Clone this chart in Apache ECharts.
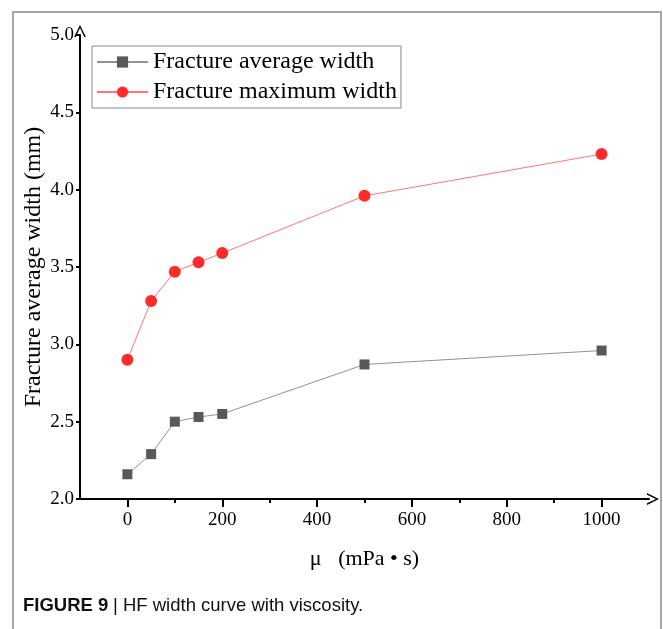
<!DOCTYPE html>
<html>
<head>
<meta charset="utf-8">
<script src="https://cdn.jsdelivr.net/npm/echarts@6/dist/echarts.min.js"></script>
<style>
  html, body { margin: 0; padding: 0; background: #fff; }
  #chart { width: 663px; height: 629px; }
</style>
</head>
<body>
<div id="chart"></div>
<script>
// Viscosity (mPa·s) on the x axis
const viscosity = [0, 50, 100, 150, 200, 500, 1000];
// Fracture widths (mm)
const avgWidth = [2.16, 2.29, 2.50, 2.53, 2.55, 2.87, 2.96];
const maxWidth = [2.90, 3.28, 3.47, 3.53, 3.59, 3.96, 4.23];
// Tick positions
const xMajorTicks = [0, 200, 400, 600, 800, 1000];
const xMinorTicks = [0, 100, 200, 300, 400, 500, 600, 700, 800, 900, 1000];

const serif = '"Liberation Serif", "DejaVu Serif", serif';
const openArrow = 'path://M5,0 L10,10 L8.6,10 L5,2.6 L1.4,10 L0,10 Z';

const chart = echarts.init(document.getElementById('chart'), null, { renderer: 'canvas' });

const pairs = (xs, ys) => xs.map((x, i) => [x, ys[i]]);

chart.setOption({
  backgroundColor: '#fff',
  animation: false,
  grid: { left: 80, right: 14, top: 35, bottom: 130, containLabel: false },
  legend: {
    orient: 'vertical',
    left: 92, top: 46,
    padding: [4, 4, 4, 4],
    itemGap: 6,
    itemWidth: 51,
    itemHeight: 14,
    borderColor: '#888',
    borderWidth: 1,
    textStyle: { fontFamily: serif, fontSize: 24, color: '#000', lineHeight: 22 },
    data: ['Fracture average width', 'Fracture maximum width']
  },
  xAxis: [
    {
      type: 'value', min: -100, max: 1100, position: 'bottom',
      splitLine: { show: false },
      axisLine: { onZero: false, lineStyle: { color: '#000', width: 2 }, symbol: ['none', openArrow], symbolSize: [13, 12], symbolOffset: [0, 4] },
      axisTick: { show: true, inside: false, length: 4, lineStyle: { color: '#000', width: 2 }, customValues: xMinorTicks },
      axisLabel: { fontFamily: serif, fontSize: 19, color: '#000', margin: 12, customValues: xMajorTicks, formatter: v => String(v) },
      name: 'μ   (mPa • s)', nameLocation: 'middle', nameGap: 49, nameMoveOverlap: false,
      nameTextStyle: { fontFamily: serif, fontSize: 22, color: '#000' }
    },
    {
      type: 'value', min: -100, max: 1100, position: 'bottom',
      splitLine: { show: false },
      axisLine: { show: false, onZero: false },
      axisTick: { show: true, inside: false, length: 8, lineStyle: { color: '#000', width: 2 }, customValues: xMajorTicks },
      axisLabel: { show: false }
    }
  ],
  yAxis: {
    type: 'value', min: 2, max: 5, interval: 0.5,
    splitLine: { show: false },
    axisLine: { show: true, onZero: false, lineStyle: { color: '#000', width: 2 }, symbol: ['none', openArrow], symbolSize: [13, 12], symbolOffset: [0, 4] },
    axisTick: { show: true, inside: false, length: 4, lineStyle: { color: '#000', width: 2 } },
    axisLabel: { fontFamily: serif, fontSize: 19, color: '#000', margin: 6, formatter: v => v.toFixed(1) },
    name: 'Fracture average width (mm)', nameLocation: 'middle', nameGap: 34, nameRotate: 90, nameMoveOverlap: false,
    nameTextStyle: { fontFamily: serif, fontSize: 24, color: '#000' }
  },
  series: [
    {
      name: 'Fracture average width', type: 'line',
      data: pairs(viscosity, avgWidth),
      symbol: 'rect', symbolSize: 10,
      itemStyle: { color: '#595959' },
      lineStyle: { color: '#929292', width: 1 },
      z: 3
    },
    {
      name: 'Fracture maximum width', type: 'line',
      data: pairs(viscosity, maxWidth),
      symbol: 'circle', symbolSize: 12,
      itemStyle: { color: '#ff2a2a' },
      lineStyle: { color: '#ff7676', width: 1 },
      z: 3
    }
  ],
  graphic: [
    // figure frame, open at the bottom
    { type: 'polyline', shape: { points: [[13, 629], [13, 12], [661, 12], [661, 629]] },
      style: { stroke: '#a6a6a6', lineWidth: 2, fill: null }, silent: true },
    { type: 'text', left: 23, top: 596,
      style: { text: 'FIGURE 9', font: 'bold 18.5px "Liberation Sans", Arial, sans-serif', fill: '#111' } },
    { type: 'text', left: 113, top: 596,
      style: { text: '| HF width curve with viscosity.', font: '18.5px "Liberation Sans", Arial, sans-serif', fill: '#111' } }
  ]
});
</script>
</body>
</html>
